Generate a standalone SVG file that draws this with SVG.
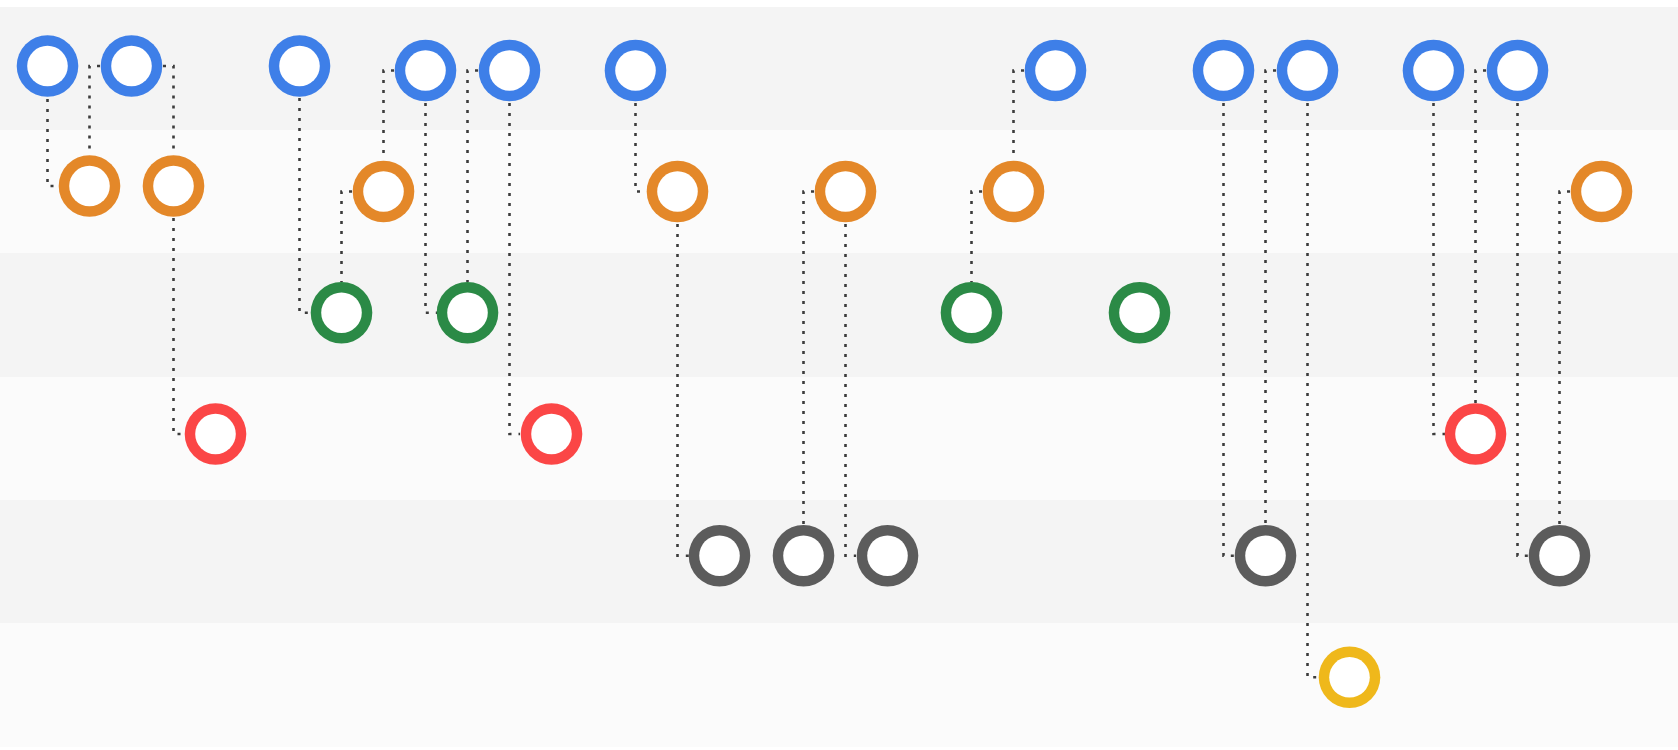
<svg xmlns="http://www.w3.org/2000/svg" width="1678" height="750" viewBox="0 0 1678 750">
<style>
.bandA{fill:#f4f4f4}
.bandB{fill:#fbfbfb}
.o{stroke:none}
.i{fill:#ffffff;stroke:none}
.blue{fill:#3e7fe8}
.orange{fill:#e48829}
.green{fill:#2b8a46}
.red{fill:#fb4646}
.gray{fill:#5c5c5c}
.yellow{fill:#efb81b}
.c{fill:none;stroke:#3c3c3c;stroke-width:2.6;stroke-dasharray:3 7}
</style>
<rect x="0" y="0" width="1678" height="750" fill="#ffffff"/>
<g id="bands">
<rect class="bandA" x="0" y="7" width="1678" height="123"/>
<rect class="bandB" x="0" y="130" width="1678" height="123"/>
<rect class="bandA" x="0" y="253" width="1678" height="124"/>
<rect class="bandB" x="0" y="377" width="1678" height="123"/>
<rect class="bandA" x="0" y="500" width="1678" height="123"/>
<rect class="bandB" x="0" y="623" width="1678" height="124"/>
</g>
<g id="connectors">
<path class="c" d="M47.5,99 V186 H58"/>
<path class="c" d="M100,66 H89.5 V155"/>
<path class="c" d="M163,66 H173.5 V155"/>
<path class="c" d="M173.5,218 V434 H185"/>
<path class="c" d="M299.5,98 V312.7 H311"/>
<path class="c" d="M394,70.5 H383.5 V160"/>
<path class="c" d="M352,191.5 H341.5 V282"/>
<path class="c" d="M425.5,103 V312.7 H437"/>
<path class="c" d="M478,70.5 H467.5 V282"/>
<path class="c" d="M509.5,103 V434 H520"/>
<path class="c" d="M635.5,103 V191.5 H646"/>
<path class="c" d="M677.5,224 V555.7 H689"/>
<path class="c" d="M814,191.5 H803.5 V525"/>
<path class="c" d="M845.5,224 V555.7 H856"/>
<path class="c" d="M1024,70.5 H1013.5 V160"/>
<path class="c" d="M982,191.5 H971.5 V282"/>
<path class="c" d="M1223.5,103 V555.7 H1235"/>
<path class="c" d="M1276,70.5 H1265.5 V525"/>
<path class="c" d="M1307.5,103 V677.3 H1318"/>
<path class="c" d="M1433.5,103 V434 H1445"/>
<path class="c" d="M1486,70.5 H1475.5 V403"/>
<path class="c" d="M1517.5,103 V555.7 H1529"/>
<path class="c" d="M1570,191.5 H1559.5 V525"/>
</g>
<g id="b1"><circle class="o blue" cx="47.5" cy="66" r="30.8"/><circle class="i" cx="47.5" cy="66" r="20.3"/></g>
<g id="b2"><circle class="o blue" cx="131.5" cy="66" r="30.8"/><circle class="i" cx="131.5" cy="66" r="20.3"/></g>
<g id="b3"><circle class="o blue" cx="299.5" cy="66" r="30.8"/><circle class="i" cx="299.5" cy="66" r="20.3"/></g>
<g id="b4"><circle class="o blue" cx="425.5" cy="70.5" r="30.8"/><circle class="i" cx="425.5" cy="70.5" r="20.3"/></g>
<g id="b5"><circle class="o blue" cx="509.5" cy="70.5" r="30.8"/><circle class="i" cx="509.5" cy="70.5" r="20.3"/></g>
<g id="b6"><circle class="o blue" cx="635.5" cy="70.5" r="30.8"/><circle class="i" cx="635.5" cy="70.5" r="20.3"/></g>
<g id="b7"><circle class="o blue" cx="1055.5" cy="70.5" r="30.8"/><circle class="i" cx="1055.5" cy="70.5" r="20.3"/></g>
<g id="b8"><circle class="o blue" cx="1223.5" cy="70.5" r="30.8"/><circle class="i" cx="1223.5" cy="70.5" r="20.3"/></g>
<g id="b9"><circle class="o blue" cx="1307.5" cy="70.5" r="30.8"/><circle class="i" cx="1307.5" cy="70.5" r="20.3"/></g>
<g id="b10"><circle class="o blue" cx="1433.5" cy="70.5" r="30.8"/><circle class="i" cx="1433.5" cy="70.5" r="20.3"/></g>
<g id="b11"><circle class="o blue" cx="1517.5" cy="70.5" r="30.8"/><circle class="i" cx="1517.5" cy="70.5" r="20.3"/></g>
<g id="o1"><circle class="o orange" cx="89.5" cy="186" r="30.8"/><circle class="i" cx="89.5" cy="186" r="20.3"/></g>
<g id="o2"><circle class="o orange" cx="173.5" cy="186" r="30.8"/><circle class="i" cx="173.5" cy="186" r="20.3"/></g>
<g id="o3"><circle class="o orange" cx="383.5" cy="191.5" r="30.8"/><circle class="i" cx="383.5" cy="191.5" r="20.3"/></g>
<g id="o4"><circle class="o orange" cx="677.5" cy="191.5" r="30.8"/><circle class="i" cx="677.5" cy="191.5" r="20.3"/></g>
<g id="o5"><circle class="o orange" cx="845.5" cy="191.5" r="30.8"/><circle class="i" cx="845.5" cy="191.5" r="20.3"/></g>
<g id="o6"><circle class="o orange" cx="1013.5" cy="191.5" r="30.8"/><circle class="i" cx="1013.5" cy="191.5" r="20.3"/></g>
<g id="o7"><circle class="o orange" cx="1601.5" cy="191.5" r="30.8"/><circle class="i" cx="1601.5" cy="191.5" r="20.3"/></g>
<g id="g1"><circle class="o green" cx="341.5" cy="312.7" r="30.8"/><circle class="i" cx="341.5" cy="312.7" r="20.3"/></g>
<g id="g2"><circle class="o green" cx="467.5" cy="312.7" r="30.8"/><circle class="i" cx="467.5" cy="312.7" r="20.3"/></g>
<g id="g3"><circle class="o green" cx="971.5" cy="312.7" r="30.8"/><circle class="i" cx="971.5" cy="312.7" r="20.3"/></g>
<g id="g4"><circle class="o green" cx="1139.5" cy="312.7" r="30.8"/><circle class="i" cx="1139.5" cy="312.7" r="20.3"/></g>
<g id="r1"><circle class="o red" cx="215.5" cy="434" r="30.8"/><circle class="i" cx="215.5" cy="434" r="20.3"/></g>
<g id="r2"><circle class="o red" cx="551.5" cy="434" r="30.8"/><circle class="i" cx="551.5" cy="434" r="20.3"/></g>
<g id="r3"><circle class="o red" cx="1475.5" cy="434" r="30.8"/><circle class="i" cx="1475.5" cy="434" r="20.3"/></g>
<g id="k1"><circle class="o gray" cx="719.5" cy="555.7" r="30.8"/><circle class="i" cx="719.5" cy="555.7" r="20.3"/></g>
<g id="k2"><circle class="o gray" cx="803.5" cy="555.7" r="30.8"/><circle class="i" cx="803.5" cy="555.7" r="20.3"/></g>
<g id="k3"><circle class="o gray" cx="887.5" cy="555.7" r="30.8"/><circle class="i" cx="887.5" cy="555.7" r="20.3"/></g>
<g id="k4"><circle class="o gray" cx="1265.5" cy="555.7" r="30.8"/><circle class="i" cx="1265.5" cy="555.7" r="20.3"/></g>
<g id="k5"><circle class="o gray" cx="1559.5" cy="555.7" r="30.8"/><circle class="i" cx="1559.5" cy="555.7" r="20.3"/></g>
<g id="y1"><circle class="o yellow" cx="1349.5" cy="677.3" r="30.8"/><circle class="i" cx="1349.5" cy="677.3" r="20.3"/></g>
</svg>
